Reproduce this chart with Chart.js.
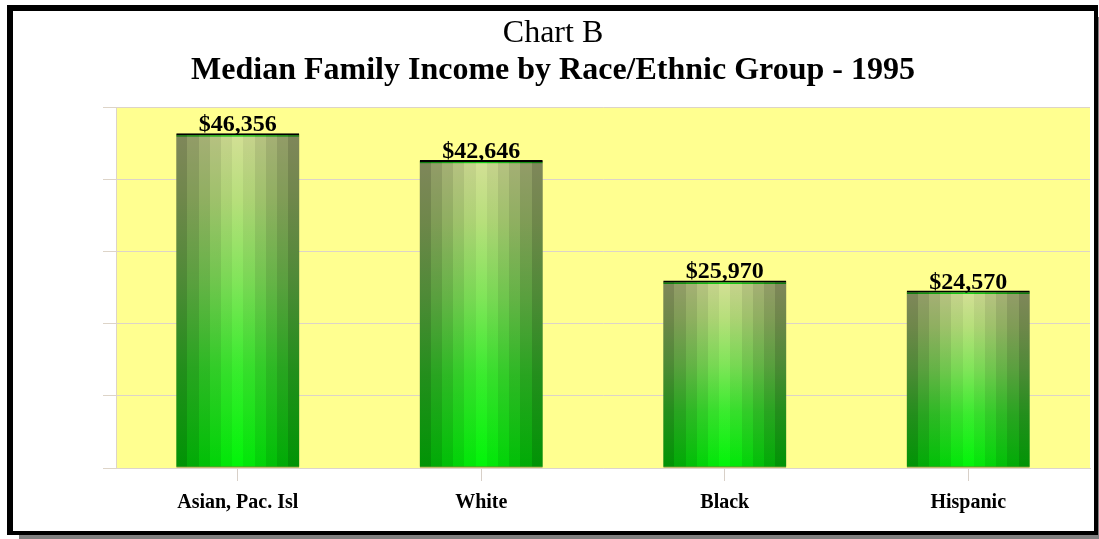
<!DOCTYPE html>
<html>
<head>
<meta charset="utf-8">
<script src="https://cdn.jsdelivr.net/npm/chart.js@4"></script>
<style>
  html, body { margin: 0; padding: 0; background: #fff; }
  #box { position: absolute; left: 0; top: 0; width: 1099px; height: 539px; }
  #frame {
    position: absolute; left: 7px; top: 5px; width: 1091px; height: 530px;
    box-sizing: border-box; border-style: solid; border-color: #000;
    border-width: 6px 4px 4px 6px;
    box-shadow: 8px 8px 0 -4px #808080;
    pointer-events: none;
  }
</style>
</head>
<body>
<div id="box"><canvas id="chart"></canvas></div>
<div id="frame"></div>
<script>
const groups = ["Asian, Pac. Isl", "White", "Black", "Hispanic"];
const income = [46356, 42646, 25970, 24570];
const serif = "'Liberation Serif', 'Times New Roman', serif";

// vertical colour of a bar, top to bottom
function barFill(c) {
  const chart = c.chart;
  if (!chart.chartArea) return "#33ee33";
  const ys = chart.scales.y;
  const top = ys.getPixelForValue(c.raw);
  const bot = ys.getPixelForValue(0);
  const h = Math.max(bot - top, 10);
  const g = chart.ctx.createLinearGradient(0, top, 0, bot);
  g.addColorStop(0, "#18d818");
  g.addColorStop(3 / h, "#18d818");
  g.addColorStop(3.5 / h, "#dae89a");
  g.addColorStop(0.2, "#bee880");
  g.addColorStop(0.45, "#84ee5c");
  g.addColorStop(0.7, "#3cf530");
  g.addColorStop(1, "#00ff08");
  return g;
}

// yellow plot area, banded darker edges on bars, value labels
const shading = {
  id: "shading",
  beforeDraw(chart) {
    const { ctx, chartArea: a } = chart;
    ctx.save();
    ctx.fillStyle = "#ffff90";
    ctx.fillRect(a.left, a.top, a.right - a.left, a.bottom - a.top);
    ctx.restore();
  },
  afterDatasetsDraw(chart) {
    const ctx = chart.ctx;
    const meta = chart.getDatasetMeta(0);
    const n = 11;
    ctx.save();
    meta.data.forEach((bar, i) => {
      const { x, y, base, width } = bar.getProps(["x", "y", "base", "width"], true);
      const l = x - width / 2;
      const g = ctx.createLinearGradient(l, 0, l + width, 0);
      for (let k = 0; k < n; k++) {
        const d = Math.abs(k - (n - 1) / 2) / ((n - 1) / 2);
        const col = "rgba(0,0,0," + (0.04 + 0.38 * Math.pow(d, 1.2)).toFixed(3) + ")";
        g.addColorStop(k / n, col);
        g.addColorStop((k + 1) / n - 0.0001, col);
      }
      ctx.fillStyle = g;
      ctx.fillRect(l, y + 1, width, base - y - 2);

      ctx.fillStyle = "#000";
      ctx.font = "bold 24px " + serif;
      ctx.textAlign = "center";
      ctx.textBaseline = "alphabetic";
      ctx.fillText("$" + income[i].toLocaleString("en-US"), x, y - 2);
    });
    ctx.restore();
  }
};

new Chart(document.getElementById("chart"), {
  type: "bar",
  data: {
    labels: groups,
    datasets: [{
      data: income,
      backgroundColor: barFill,
      borderColor: "#000",
      borderWidth: { top: 2, bottom: 1, left: 0, right: 0 },
      borderSkipped: false,
      barPercentage: 0.505,
      categoryPercentage: 1
    }]
  },
  options: {
    responsive: true,
    maintainAspectRatio: false,
    animation: false,
    layout: { padding: { left: 16, right: 9, top: 0, bottom: 14 } },
    plugins: {
      legend: { display: false },
      tooltip: { enabled: false },
      title: {
        display: true,
        text: "Chart B",
        color: "#000",
        font: { family: serif, size: 32, weight: "normal", lineHeight: 1 },
        padding: { top: 18, bottom: 5 }
      },
      subtitle: {
        display: true,
        text: "Median Family Income by Race/Ethnic Group - 1995",
        color: "#000",
        font: { family: serif, size: 32, weight: "bold", lineHeight: 1 },
        padding: { top: 0, bottom: 20 }
      }
    },
    scales: {
      x: {
        grid: { offset: false, drawOnChartArea: false, color: "#d8d0c8", tickLength: 13 },
        border: { color: "#ddd5cc" },
        ticks: { color: "#000", padding: 10, font: { family: serif, size: 20, weight: "bold" } }
      },
      y: {
        min: 0,
        max: 50000,
        afterFit(scale) { scale.width = 100; },
        grid: { color: "#ddd4c8", tickLength: 13 },
        border: { color: "#ddd4c8" },
        ticks: { display: false, stepSize: 10000 }
      }
    }
  },
  plugins: [shading]
});
</script>
</body>
</html>
